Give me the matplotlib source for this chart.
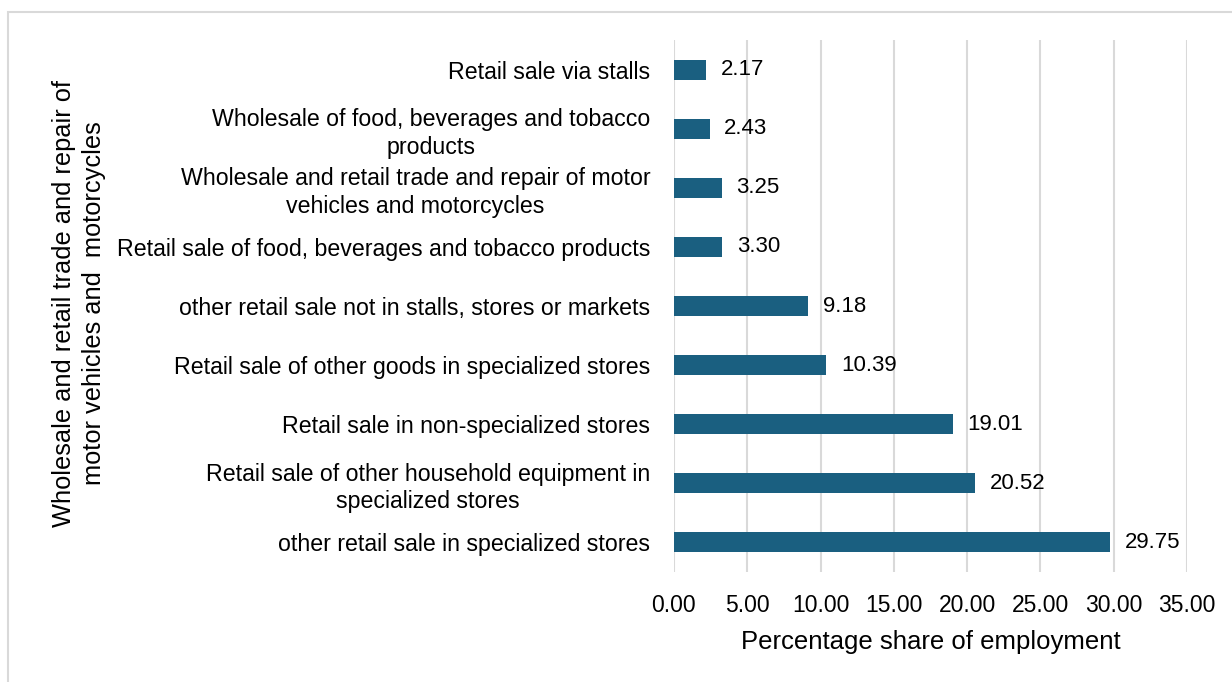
import matplotlib
matplotlib.use("Agg")
import matplotlib.pyplot as plt
from matplotlib.patches import Rectangle

categories = [
    "other retail sale in specialized stores",
    "Retail sale of other household equipment in\nspecialized stores",
    "Retail sale in non-specialized stores",
    "Retail sale of other goods in specialized stores",
    "other retail sale not in stalls, stores or markets",
    "Retail sale of food, beverages and tobacco products",
    "Wholesale and retail trade and repair of motor\nvehicles and motorcycles",
    "Wholesale of food, beverages and tobacco\nproducts",
    "Retail sale via stalls",
]
shares = [29.75, 20.52, 19.01, 10.39, 9.18, 3.30, 3.25, 2.43, 2.17]
xticks = [0, 5, 10, 15, 20, 25, 30, 35]

plt.rcParams['font.family'] = ['Liberation Sans', 'DejaVu Sans']

fig = plt.figure(figsize=(12.32, 6.82), dpi=100)
ax = fig.add_axes([0.547, 0.1613, 0.4165, 0.78])

# light frame round the chart area
fig.patches.append(Rectangle((8 / 1232, -0.1), 1.2, 1 - 12 / 682 + 0.1,
                             transform=fig.transFigure, fill=False,
                             edgecolor='#d9d9d9', linewidth=1.5))

pos = list(range(len(categories)))
ax.barh(pos, shares, height=0.34, color='#1a5f80', zorder=3)
for p, v in zip(pos, shares):
    ax.text(v + 1.0, p, f"{v:.2f}", va='center', ha='left', fontsize=16, color='black')

ax.set_xlim(0, 35)
ax.set_ylim(-0.5, 8.5)
ax.set_xticks(xticks)
ax.set_xticklabels([f"{t:.2f}" for t in xticks], fontsize=16.5)
ax.set_yticks(pos)
ax.set_yticklabels(categories, fontsize=16.7, linespacing=1.25, multialignment='center')
ax.tick_params(axis='x', length=0, pad=16)
ax.tick_params(axis='y', length=0, pad=17)
ax.grid(axis='x', color='#d9d9d9', linewidth=1.5, zorder=0)
for s in ax.spines.values():
    s.set_visible(False)

ax.set_xlabel("Percentage share of employment", fontsize=18.5, labelpad=9)
fig.text(0.064, 0.555, "Wholesale and retail trade and repair of\nmotor vehicles and  motorcycles",
         rotation=90, ha='center', va='center', fontsize=18.3, linespacing=1.3)

fig.savefig("out.png", dpi=100)
